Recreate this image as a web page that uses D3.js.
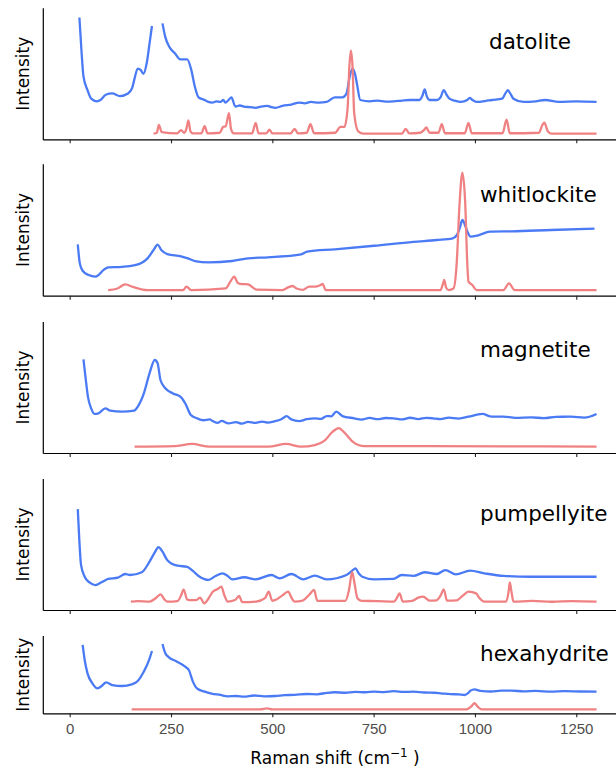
<!DOCTYPE html>
<html>
<head>
<meta charset="utf-8">
<script src="https://cdn.jsdelivr.net/npm/d3@7"></script>
<style>
  html, body { margin: 0; padding: 0; background: #ffffff; }
  svg { display: block; }
</style>
</head>
<body>
<svg id="chart" width="616" height="773"></svg>
<script>
// ---------------- DATA ----------------
const minerals = ["datolite", "whitlockite", "magnetite", "pumpellyite", "hexahydrite"];
const xTicks = [0, 250, 500, 750, 1000, 1250];
const xTickLabels = ["0", "250", "500", "750", "1000", "1250"];

// measured spectra (blue) — [Raman shift, relative intensity 0..100 of panel]
const datoliteMeasured = [[24,93],[29,68],[34,48],[44,37.5],[53,31],[67,29],[76,30],[89,34],[105,35],[124,33],[144,35],[154,39],[159,45],[168,54],[175,53],[182,50],[190,58],[197,73],[203,86.5],[215,130],[229,88.5],[236,78],[245,71],[260,65.5],[273,61],[290,61],[300,53],[309,40],[318,32],[333,30],[342,28.5],[352,28],[362,29],[372,28.5],[379,30],[384,28],[392,30],[399,32],[409,25],[420,25.8],[430,25],[445,24.5],[459,24],[472,25],[488,25.5],[498,24.5],[508,24],[525,25.5],[547,26.5],[566,28],[580,27.5],[595,28.5],[615,28],[634,28.5],[654,32],[673,32],[683,35],[691,48],[698,54],[704,50],[709,42],[717,30],[741,29],[760,29.5],[780,28.8],[799,29],[820,29.6],[839,30],[863,30],[870,33],[876,38],[881,33],[888,30],[907,30],[915,32],[923,37.5],[930,34],[937,31],[950,29.5],[965,28.5],[981,30],[987,31.6],[994,30],[1005,28.5],[1025,29.2],[1042,30],[1067,31],[1075,35],[1081,37.5],[1087,35],[1095,31],[1120,28.5],[1150,29],[1173,30],[1207,28.5],[1250,29],[1300,28.5]];
const whitlockiteMeasured = [[20,39],[25,24.6],[32,19],[47,15.7],[63,14.5],[71,15.7],[83,19.5],[95,21.6],[129,22],[158,23],[178,25],[192,28.4],[207,34.8],[217,38.8],[226,34.8],[241,31.7],[275,30],[292,28.4],[309,26.4],[343,25.4],[401,26.4],[440,28.4],[489,29.2],[571,31.5],[586,33.5],[654,35.3],[751,38],[848,41],[906,42.4],[945,43.7],[955,46],[962,51],[969,57.6],[975,54],[981,49],[989,45],[1008,46],[1037,48.7],[1091,49],[1188,50],[1295,51]];
const magnetiteMeasured = [[34,71.5],[39,58],[45,43],[53,34],[61,29.8],[71,30.3],[88,34],[100,32.3],[129,31.6],[159,32.3],[168,35.4],[183,45.5],[197,60.8],[210,71],[217,68.4],[224,55.7],[236,49.4],[255,45.5],[275,42.5],[285,38],[299,29],[314,26.5],[330,25],[345,25.6],[353,24.4],[365,23],[375,24.5],[392,22.6],[410,23.6],[425,22.4],[440,23.8],[459,23],[475,24],[490,23.2],[503,24],[522,25.7],[535,28.2],[547,25.7],[566,24.4],[585,25.8],[605,26.5],[620,26],[634,28.2],[645,28],[658,31.6],[673,28.2],[702,26.5],[720,25.5],[740,26.8],[760,25.8],[780,26.7],[799,26.5],[820,25.6],[840,26.9],[860,25.9],[880,26.8],[896,26.5],[915,25.8],[935,27],[960,26.3],[984,27.7],[1018,29.8],[1042,27.7],[1070,27.8],[1100,26.8],[1139,27.2],[1170,26.6],[1200,27.6],[1236,27.7],[1270,27],[1300,29.8]];
const pumpellyiteMeasured = [[20,77],[24,52],[28,34.4],[37,25.4],[49,21],[63,19],[81,21.6],[95,23.7],[119,24.7],[137,27.5],[149,26.7],[178,28.8],[197,36.9],[210,44],[219,48],[229,44.5],[241,38],[266,33.8],[290,33],[304,29.8],[318,26],[343,23],[360,26],[377,28],[390,26],[401,23.4],[431,25],[459,23.4],[498,26.7],[518,24.2],[547,27.5],[576,23.4],[605,26.2],[634,23.4],[683,26.7],[697,30],[705,31.8],[713,28],[722,25.4],[751,23.4],[799,23.7],[819,26.7],[848,26],[876,28.8],[906,27.5],[927,30.5],[953,27.2],[988,30],[1023,28],[1071,26],[1139,25.4],[1300,25.4]];
const hexahydriteMeasured = [[32,88.4],[37,69],[44,51.7],[56,38.8],[69,32.3],[79,35.3],[90,40],[105,36.6],[129,35.3],[153,37.5],[168,41.8],[183,54],[196,69],[203,80.6],[215,130],[229,89.7],[236,77.6],[245,72.4],[265,66.8],[285,60.3],[294,56],[304,41],[314,32.3],[333,28],[350,25.5],[372,23.7],[390,22],[411,22.4],[430,21.6],[455,23],[480,22],[508,22.4],[530,23.5],[555,23.8],[586,25],[610,24.6],[635,26.5],[654,27.2],[680,26.6],[705,27.8],[730,27.2],[751,28],[775,27.4],[800,28.6],[825,27.6],[848,28],[875,26.9],[900,26.6],[916,25.9],[940,24.8],[960,24.5],[974,23.7],[983,26],[989,29.3],[999,31],[1013,28.9],[1040,28.2],[1065,29.4],[1091,29.3],[1120,28.4],[1150,28.9],[1188,28],[1220,28.7],[1260,28.2],[1300,28]];

// reference spectra (red)
const datoliteReference = [[207,4.3],[215,5],[220,11],[227,5.5],[265,4.5],[275,7],[282,5],[288,8],[293,14.5],[298,6],[304,4.5],[325,4.6],[333,10],[340,4.5],[370,5],[379,9.5],[385,10],[393,20],[398,8],[405,4.5],[450,4.5],[459,12.5],[466,4.6],[485,4.5],[493,7.4],[500,4.5],[545,4.5],[555,8],[563,4.5],[585,5],[594,11.5],[603,4.6],[655,5],[668,9.5],[678,9.5],[686,25],[690,55],[694,67.6],[698,55],[702,20],[712,6],[725,4.3],[820,4.4],[829,8],[838,4.5],[865,5],[874,7],[880,9],[888,5],[910,5],[918,11.5],[926,4.6],[975,4.6],[984,12.5],[992,4.6],[1068,4.6],[1078,15],[1086,4.6],[1158,5],[1165,10],[1171,12.8],[1180,6],[1190,4.3],[1300,4.3]];
const whitlockiteReference = [[95,4.3],[118,5.5],[137,8.6],[158,6.5],[192,4.3],[280,4.3],[288,6.9],[300,4.3],[385,5.5],[397,11],[406,14.5],[414,10],[421,9],[440,8.6],[462,4.6],[525,4.3],[540,6.5],[550,7.4],[560,5.5],[576,4.5],[591,6.9],[605,6.9],[618,8],[624,8.9],[632,4.3],[915,4.3],[921,9],[924,12],[929,6],[935,4.3],[947,5.5],[955,25],[962,70],[969,93.7],[976,70],[981,25],[984,10.7],[994,8],[1004,4.3],[1070,4.3],[1084,9.4],[1098,4.3],[1300,4.3]];
const magnetiteReference = [[160,4.8],[258,5.2],[302,6.9],[345,4.8],[490,4.8],[534,6.9],[571,4.8],[605,6.1],[629,9.5],[649,16.3],[664,19],[678,15.5],[698,8.7],[727,5.2],[880,5.2],[1300,4.8]];
const pumpellyiteReference = [[151,6.4],[168,6.8],[197,6.4],[212,9],[224,12],[234,8],[241,6.4],[266,6.8],[276,12],[281,15.8],[290,8],[295,7.6],[312,7.6],[322,9.4],[332,5],[343,9],[353,14],[365,16],[374,17.8],[382,11],[390,6.4],[408,7.6],[418,10.7],[426,6],[460,6.4],[482,9],[491,14],[500,7],[510,8],[524,11],[539,14],[548,9],[555,6.4],[575,7.2],[592,12],[603,15.3],[611,7],[680,7],[689,15],[697,28.8],[703,20],[710,9],[720,7],[760,6.8],[800,6.4],[807,9],[814,12.7],[822,6.4],[845,7],[860,9.4],[872,10.2],[888,7.2],[905,7.4],[916,11.5],[923,15.8],[931,7.2],[955,7.4],[970,11],[984,14],[1003,12.7],[1010,9.5],[1023,6.4],[1077,6.4],[1083,14],[1086,21],[1090,14],[1095,6.4],[1140,6.9],[1190,6.3],[1240,6.8],[1300,6.4]];
const hexahydriteReference = [[153,5.2],[470,5.2],[487,6.5],[500,5.2],[980,5.2],[991,9],[999,13],[1006,9],[1017,5.2],[1300,5.2]];

const measuredSeries = [datoliteMeasured, whitlockiteMeasured, magnetiteMeasured, pumpellyiteMeasured, hexahydriteMeasured];
const referenceSeries = [datoliteReference, whitlockiteReference, magnetiteReference, pumpellyiteReference, hexahydriteReference];

// ---------------- LAYOUT ----------------
const W = 616, H = 773;
const plotLeft = 43.3, plotRight = 616;
const panelTops = [8.3, 164.3, 322, 479, 636];
const panelBottoms = [139.3, 295.7, 453, 610, 713.3];
const labelX = [489, 480, 480, 480, 480];
const labelBaselineOffset = [41, 37.5, 35, 42, 25];
const blue = "#4a7af4";
const red = "#f08183";

const svg = d3.select("#chart");
svg.append("rect").attr("width", W).attr("height", H).attr("fill", "#fff");

const x = d3.scaleLinear().domain([-65.1, 1348]).range([plotLeft, plotRight]);

minerals.forEach((name, i) => {
  const top = panelTops[i], bottom = panelBottoms[i];
  const y = d3.scaleLinear().domain([0, 100]).range([bottom, top]);
  const g = svg.append("g");

  const line = d3.line()
    .defined(d => d[1] <= 100)
    .x(d => x(d[0]))
    .y(d => y(d[1]))
    .curve(d3.curveMonotoneX);

  g.append("path").datum(measuredSeries[i])
    .attr("d", line).attr("fill", "none")
    .attr("stroke", blue).attr("stroke-width", 2.3)
    .attr("stroke-linejoin", "round").attr("stroke-linecap", "butt");

  g.append("path").datum(referenceSeries[i])
    .attr("d", line).attr("fill", "none")
    .attr("stroke", red).attr("stroke-width", 2.3)
    .attr("stroke-linejoin", "round");

  // axes
  const xAxis = d3.axisBottom(x).tickValues(xTicks).tickSize(4).tickSizeOuter(0)
    .tickFormat((d, k) => i === minerals.length - 1 ? xTickLabels[k] : "");
  const ax = g.append("g").attr("transform", `translate(0,${bottom})`).call(xAxis);
  ax.select(".domain").attr("stroke", "#000").attr("stroke-width", 1.2)
    .attr("d", `M${plotLeft},0.5H${plotRight}`);
  ax.selectAll(".tick line").attr("stroke", "#222").attr("stroke-width", 1.1);
  ax.selectAll(".tick text")
    .attr("font-family", "'Liberation Sans', Arial, sans-serif")
    .attr("font-size", 15).attr("fill", "#4d4d4d").attr("dy", null).attr("y", 21);

  g.append("line")
    .attr("x1", plotLeft).attr("x2", plotLeft)
    .attr("y1", top).attr("y2", bottom + 0.6)
    .attr("stroke", "#000").attr("stroke-width", 1.2);

  // y title
  g.append("text")
    .attr("transform", `translate(29,${(top + bottom) / 2}) rotate(-90)`)
    .attr("text-anchor", "middle")
    .attr("font-family", "'DejaVu Sans', sans-serif")
    .attr("font-size", 17).attr("fill", "#000")
    .text("Intensity");

  // mineral label
  g.append("text")
    .attr("x", labelX[i]).attr("y", top + labelBaselineOffset[i])
    .attr("font-family", "'DejaVu Sans', sans-serif")
    .attr("font-size", 21.5).attr("fill", "#000")
    .text(name);
});

// x title
const xt = svg.append("text")
  .attr("x", 335).attr("y", 764)
  .attr("text-anchor", "middle")
  .attr("font-family", "'DejaVu Sans', sans-serif")
  .attr("font-size", 17).attr("fill", "#000");
xt.append("tspan").text("Raman shift (cm");
xt.append("tspan").attr("font-size", 12).attr("dy", -7).text("\u22121");
xt.append("tspan").attr("dy", 7).text(" )");
</script>
</body>
</html>
